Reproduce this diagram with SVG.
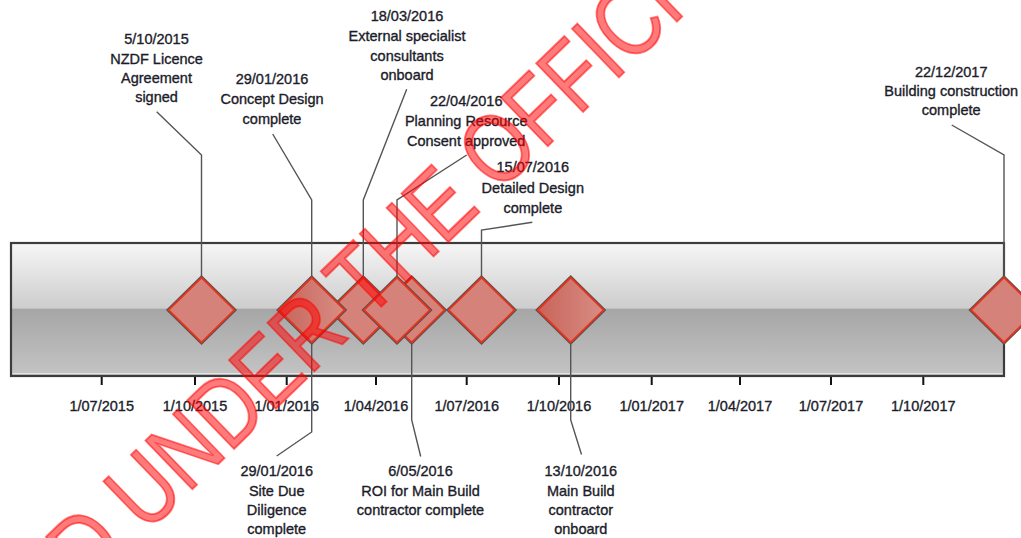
<svg xmlns="http://www.w3.org/2000/svg" xmlns:xlink="http://www.w3.org/1999/xlink" width="1021" height="538" viewBox="0 0 1021 538">
<style>
.lbl{font-family:"Liberation Sans",Arial,sans-serif;font-size:14.5px;fill:#1c1c2a;stroke:#1c1c2a;stroke-width:0.35;text-anchor:middle}
.ax{font-family:"Liberation Sans",Arial,sans-serif;font-size:14.5px;fill:#1c1c2a;stroke:#1c1c2a;stroke-width:0.35;text-anchor:middle}
.ld{fill:none;stroke:#555;stroke-width:1.4}
.tk{stroke:#111;stroke-width:2}
.d-out{fill:none;stroke:#505050;stroke-width:3.6;stroke-linejoin:miter}
.d-in{stroke:#e2341f;stroke-width:1.8;stroke-linejoin:miter}
.wm{font-family:"Liberation Sans",Arial,sans-serif;font-size:98px;fill:#ff0000;fill-opacity:0.52;stroke:#ff0000;stroke-opacity:0.52;stroke-width:2}
</style>
<defs>
<linearGradient id="band" x1="0" y1="0" x2="0" y2="1">
<stop offset="0" stop-color="#f6f6f6"/>
<stop offset="0.49" stop-color="#cdcdcd"/>
<stop offset="0.497" stop-color="#a6a6a6"/>
<stop offset="1" stop-color="#c4c4c4"/>
</linearGradient>
<linearGradient id="dg" x1="0" y1="0" x2="1" y2="0">
<stop offset="0" stop-color="#c86459"/>
<stop offset="1" stop-color="#d88d85"/>
</linearGradient>
<g id="dia">
<polygon class="d-out" points="0,-32.5 33,0 0,32.5 -33,0"/>
<polygon class="d-in" fill="#d5837a" points="0,-32.5 33,0 0,32.5 -33,0"/>
</g>
<g id="diag">
<polygon class="d-out" points="0,-32.5 33,0 0,32.5 -33,0"/>
<polygon class="d-in" fill="url(#dg)" points="0,-32.5 33,0 0,32.5 -33,0"/>
</g>
</defs>
<rect width="1021" height="538" fill="#ffffff"/>

<g id="timeline-band">
<rect x="11" y="243" width="993" height="133" fill="url(#band)" stroke="#3c3c3c" stroke-width="2.2"/>
<line x1="12.5" y1="373.5" x2="1002.5" y2="373.5" stroke="#e4e4e4" stroke-width="1"/>
</g>

<g id="axis">
<line class="tk" x1="101.7" y1="377" x2="101.7" y2="385"/>
<line class="tk" x1="195" y1="377" x2="195" y2="385"/>
<line class="tk" x1="286.7" y1="377" x2="286.7" y2="385"/>
<line class="tk" x1="376" y1="377" x2="376" y2="385"/>
<line class="tk" x1="466.7" y1="377" x2="466.7" y2="385"/>
<line class="tk" x1="559" y1="377" x2="559" y2="385"/>
<line class="tk" x1="651.7" y1="377" x2="651.7" y2="385"/>
<line class="tk" x1="740" y1="377" x2="740" y2="385"/>
<line class="tk" x1="831" y1="377" x2="831" y2="385"/>
<line class="tk" x1="923.3" y1="377" x2="923.3" y2="385"/>
<text class="ax" x="101.7" y="410.5">1/07/2015</text>
<text class="ax" x="195" y="410.5">1/10/2015</text>
<text class="ax" x="286.7" y="410.5">1/01/2016</text>
<text class="ax" x="376" y="410.5">1/04/2016</text>
<text class="ax" x="466.7" y="410.5">1/07/2016</text>
<text class="ax" x="559" y="410.5">1/10/2016</text>
<text class="ax" x="651.7" y="410.5">1/01/2017</text>
<text class="ax" x="740" y="410.5">1/04/2017</text>
<text class="ax" x="831" y="410.5">1/07/2017</text>
<text class="ax" x="923.3" y="410.5">1/10/2017</text>
</g>

<g id="connectors">
<polyline class="ld" points="156.7,111.7 201.5,155 201.5,277.5"/>
<polyline class="ld" points="272.7,134 311.7,200 311.7,277.5"/>
<polyline class="ld" points="406.7,89.3 363.3,200 363.3,277.5"/>
<polyline class="ld" points="466.7,155 397,200 397,277.5"/>
<polyline class="ld" points="532.3,222.3 481.5,230 481.5,277.5"/>
<polyline class="ld" points="951.7,125 1004,155 1004,277.5"/>
<polyline class="ld" points="311.7,342.5 311.7,432 276.7,456"/>
<polyline class="ld" points="411.7,342.5 411.7,420 420.7,456.5"/>
<polyline class="ld" points="570.7,342.5 570.7,420 581.5,454.5"/>
</g>

<g id="m-2016-05-06">
<use xlink:href="#dia" href="#dia" x="411.7" y="310"/>
<text class="lbl" x="420.5" y="476">6/05/2016</text>
<text class="lbl" x="420.5" y="495.5">ROI for Main Build</text>
<text class="lbl" x="420.5" y="515">contractor complete</text>
</g>
<g id="m-2016-03-18">
<use xlink:href="#dia" href="#dia" x="363.3" y="310"/>
<text class="lbl" x="407" y="21">18/03/2016</text>
<text class="lbl" x="407" y="41">External specialist</text>
<text class="lbl" x="407" y="60.5">consultants</text>
<text class="lbl" x="407" y="80">onboard</text>
</g>
<g id="m-2016-04-22">
<use xlink:href="#dia" href="#dia" x="397" y="310"/>
<text class="lbl" x="466.2" y="106">22/04/2016</text>
<text class="lbl" x="466.2" y="126">Planning Resource</text>
<text class="lbl" x="466.2" y="146">Consent approved</text>
</g>
<g id="m-2016-01-29-site">
<text class="lbl" x="276.7" y="476">29/01/2016</text>
<text class="lbl" x="276.7" y="495.5">Site Due</text>
<text class="lbl" x="276.7" y="515">Diligence</text>
<text class="lbl" x="276.7" y="534">complete</text>
</g>
<g id="m-2016-01-29-concept">
<use xlink:href="#diag" href="#diag" x="311.7" y="310"/>
<text class="lbl" x="272" y="84.3">29/01/2016</text>
<text class="lbl" x="272" y="104">Concept Design</text>
<text class="lbl" x="272" y="123.5">complete</text>
</g>
<g id="m-2015-10-05">
<use xlink:href="#dia" href="#dia" x="201.5" y="310"/>
<text class="lbl" x="156.5" y="44.3">5/10/2015</text>
<text class="lbl" x="156.5" y="63.8">NZDF Licence</text>
<text class="lbl" x="156.5" y="83.3">Agreement</text>
<text class="lbl" x="156.5" y="102">signed</text>
</g>
<g id="m-2016-07-15">
<use xlink:href="#dia" href="#dia" x="481.5" y="310"/>
<text class="lbl" x="532.8" y="172">15/07/2016</text>
<text class="lbl" x="532.8" y="192.5">Detailed Design</text>
<text class="lbl" x="532.8" y="212.5">complete</text>
</g>
<g id="m-2016-10-13">
<use xlink:href="#diag" href="#diag" x="570.7" y="310"/>
<text class="lbl" x="580.8" y="476">13/10/2016</text>
<text class="lbl" x="580.8" y="495.5">Main Build</text>
<text class="lbl" x="580.8" y="515">contractor</text>
<text class="lbl" x="580.8" y="534">onboard</text>
</g>
<g id="m-2017-12-22">
<use xlink:href="#dia" href="#dia" x="1004" y="310"/>
<text class="lbl" x="951.2" y="76.7">22/12/2017</text>
<text class="lbl" x="951.2" y="96">Building construction</text>
<text class="lbl" x="951.2" y="115.3">complete</text>
</g>

<g id="watermark">
<text class="wm" transform="translate(88,590) rotate(-44) scale(0.82,1)">D UNDER THE OFFICI</text>
</g>
</svg>
